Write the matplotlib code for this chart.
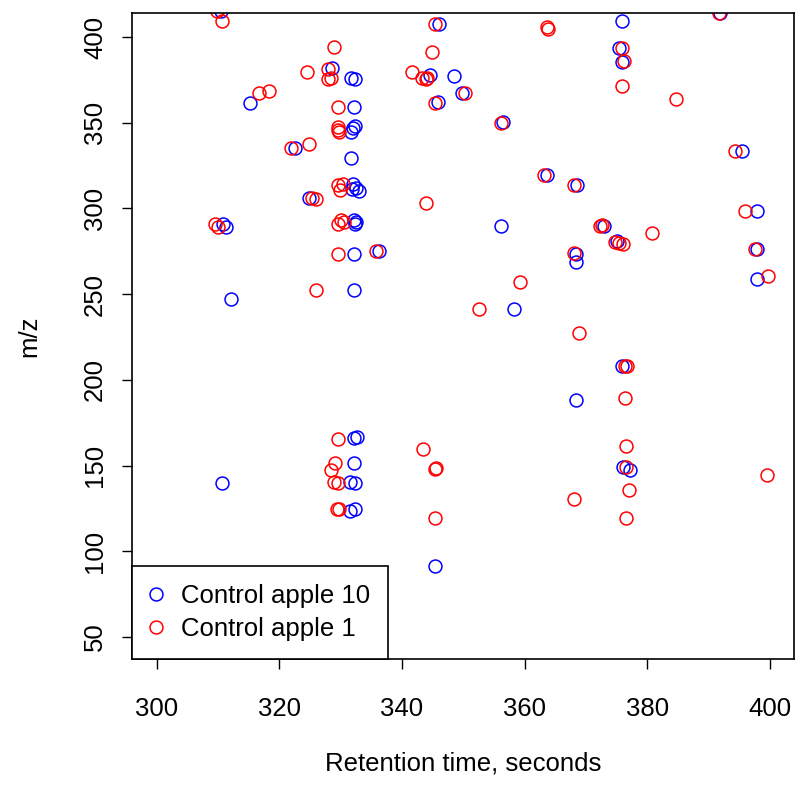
import matplotlib
matplotlib.use('Agg')
import matplotlib.pyplot as plt

plt.rcParams['font.family'] = ['Liberation Sans', 'DejaVu Sans']

# Control apple 10 (blue)
rt_10 = [310.5, 315.2, 322.5, 310.8, 311.4, 312.2, 345.96, 328.6, 331.7, 332.3,
         344.5, 348.5, 349.8, 345.9, 332.2, 332.0, 332.4, 331.7, 331.7, 332.0,
         332.5, 333.0, 331.8, 324.8, 332.2, 332.3, 332.5, 332.2, 336.2, 332.2,
         332.2, 332.7, 375.9, 375.4, 375.8, 356.5, 363.7, 368.5, 356.2, 373.0,
         375.0, 368.4, 368.4, 358.2, 375.9, 368.4, 391.9, 395.4, 397.9, 397.9,
         397.9, 332.2, 331.6, 332.3, 331.6, 332.3, 310.7, 345.4, 376.0, 377.1]
mz_10 = [415.0, 361.3, 335.4, 291.0, 289.0, 247.0, 407.6, 381.7, 376.3, 375.3,
         377.8, 377.2, 367.5, 362.3, 359.3, 347.0, 348.2, 344.3, 329.6, 314.0,
         312.0, 310.0, 311.5, 305.9, 293.0, 291.2, 292.3, 273.4, 275.3, 252.4,
         165.9, 166.8, 409.3, 393.4, 385.6, 350.4, 319.5, 313.7, 289.5, 289.5,
         281.0, 273.4, 268.9, 241.2, 208.3, 188.2, 414.2, 333.5, 298.5, 276.3,
         258.6, 151.3, 140.6, 139.6, 123.6, 124.4, 139.6, 91.6, 149.3, 147.4]

# Control apple 1 (red)
rt_1 = [309.9, 310.6, 316.7, 318.3, 321.9, 309.6, 310.0, 345.4, 329.0, 324.5,
        328.0, 327.9, 328.5, 341.7, 343.2, 343.9, 344.1, 350.3, 344.9, 345.4,
        329.5, 329.5, 329.5, 329.7, 324.9, 329.6, 329.9, 330.4, 326.0, 325.4,
        343.9, 329.5, 330.0, 330.6, 329.6, 335.8, 326.0, 329.6, 363.7, 363.8,
        375.9, 376.2, 375.9, 356.1, 363.2, 368.0, 372.6, 372.3, 375.3, 376.0,
        374.7, 368.1, 359.2, 352.5, 368.9, 376.3, 376.6, 376.4, 391.6, 384.7,
        394.3, 395.9, 380.7, 397.6, 399.6, 343.5, 329.1, 328.5, 328.9, 329.6,
        345.4, 345.5, 329.4, 329.7, 345.4, 376.5, 376.5, 377.0, 368.0, 376.5,
        399.5]
mz_1 = [415.0, 409.3, 367.5, 368.5, 335.4, 291.0, 289.0, 407.6, 394.3, 379.4,
        381.1, 375.3, 375.9, 379.6, 376.3, 375.3, 375.9, 367.5, 391.4, 361.3,
        359.3, 347.7, 345.7, 344.8, 337.4, 313.5, 310.5, 314.2, 305.3, 306.0,
        303.3, 291.0, 293.0, 292.2, 273.4, 275.3, 252.4, 165.3, 405.6, 404.9,
        393.4, 386.2, 371.4, 349.6, 319.5, 313.7, 290.3, 289.7, 279.8, 279.2,
        280.5, 273.8, 257.2, 241.2, 227.1, 208.3, 207.8, 189.2, 414.2, 363.7,
        333.5, 298.5, 285.5, 276.3, 260.6, 159.4, 151.6, 147.4, 140.6, 139.6,
        147.8, 148.3, 124.4, 124.4, 119.6, 161.4, 149.3, 135.5, 130.5, 119.4,
        144.7]

fig = plt.figure(figsize=(7.98, 7.85), dpi=100)
ax = fig.add_axes([0.1654, 0.1605, 0.8296, 0.8229])

ax.plot(rt_10, mz_10, 'o', ms=9.3, mfc='none', mec='blue', mew=1.1,
        linestyle='none', label='Control apple 10')
ax.plot(rt_1, mz_1, 'o', ms=9.3, mfc='none', mec='red', mew=1.1,
        linestyle='none', label='Control apple 1')

ax.set_xlim(296.0, 403.9)
ax.set_ylim(37.1, 414.0)
ax.set_xticks([300, 320, 340, 360, 380, 400])
ax.set_yticks([50, 100, 150, 200, 250, 300, 350, 400])
ax.tick_params(labelsize=18.5, length=7, width=1)
ax.tick_params(axis='x', pad=20)
ax.tick_params(axis='y', pad=11)
for lbl in ax.get_yticklabels():
    lbl.set_rotation(90)
    lbl.set_va('center')
for s in ax.spines.values():
    s.set_linewidth(1.2)

ax.set_xlabel('Retention time, seconds', fontsize=18.5, labelpad=22)
ax.set_ylabel('m/z', fontsize=18.5, labelpad=30)

leg = ax.legend(loc='lower left', borderaxespad=0, fancybox=False,
                edgecolor='black', fontsize=18.5, handletextpad=0.7,
                borderpad=0.7, labelspacing=0.35, handlelength=0.5,
                framealpha=1)
leg.get_frame().set_linewidth(1.2)

plt.savefig('out.png', dpi=100)
plt.close()
